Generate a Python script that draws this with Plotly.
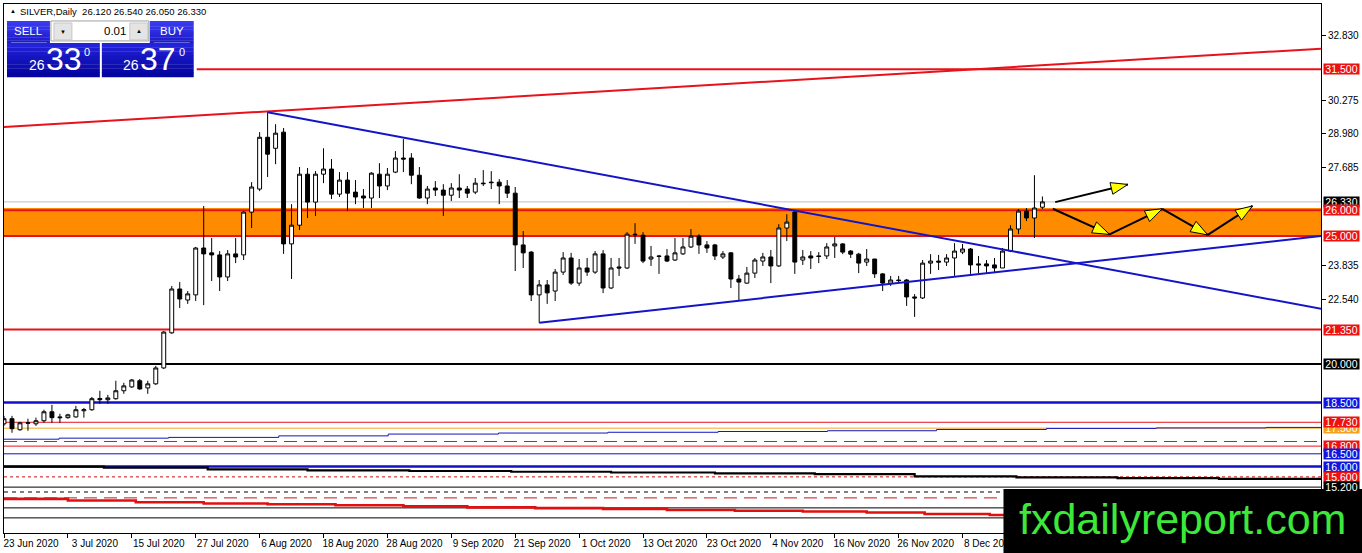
import pandas as pd
import plotly.graph_objects as go

# ---- SILVER daily candles (23 Jun 2020 .. 22 Dec 2020)
opens = [17.67, 17.87, 17.44, 17.69, 17.67, 17.79, 18.14, 17.94, 17.91, 17.94,
         18.18, 18.22, 18.66, 18.61, 18.65, 18.96, 19.11, 19.35, 19.07, 19.23,
         19.85, 21.22, 22.93, 22.50, 22.70, 24.53, 24.34, 24.26, 23.40, 24.30,
         24.26, 25.93, 26.83, 28.85, 28.42, 29.05, 24.69, 25.42, 27.41, 26.32,
         27.41, 27.61, 26.63, 27.18, 26.71, 26.56, 26.48, 27.41, 26.95, 27.49,
         28.04, 28.04, 27.37, 26.48, 26.87, 26.79, 26.59, 26.87, 26.83, 26.71,
         27.06, 27.10, 27.10, 26.95, 26.67, 24.65, 24.37, 22.70, 23.09, 22.85,
         23.59, 24.14, 23.16, 23.75, 23.59, 24.30, 22.97, 23.79, 23.75, 25.07,
         25.03, 24.10, 24.22, 24.22, 24.06, 24.30, 24.57, 24.99, 24.65, 24.65,
         24.18, 24.34, 23.32, 23.16, 23.55, 24.02, 24.18, 23.83, 25.31, 25.93,
         24.06, 24.22, 24.22, 24.22, 24.61, 24.69, 24.41, 24.29, 23.98, 24.10,
         23.52, 23.16, 23.28, 23.28, 22.62, 22.58, 23.94, 24.02, 23.98, 24.14,
         24.37, 24.49, 23.91, 23.91, 23.87, 23.75, 24.41, 25.27, 25.97, 25.70,
         26.12]
highs = [17.98, 17.98, 17.75, 17.87, 17.91, 18.22, 18.41, 18.06, 18.06, 18.37,
         18.29, 18.72, 18.96, 18.80, 19.35, 19.27, 19.42, 19.42, 19.35, 19.93,
         21.29, 23.05, 23.20, 22.85, 24.57, 26.17, 24.92, 24.41, 24.45, 24.92,
         25.97, 27.10, 29.05, 29.83, 29.36, 29.21, 26.24, 27.69, 27.65, 27.53,
         28.42, 28.00, 27.49, 27.49, 27.18, 26.83, 27.49, 27.84, 27.65, 28.31,
         28.78, 28.23, 27.69, 26.95, 27.14, 27.02, 27.06, 27.41, 26.95, 27.26,
         27.57, 27.53, 27.22, 27.18, 26.91, 25.19, 24.41, 23.28, 23.28, 23.71,
         24.37, 24.34, 24.10, 24.14, 24.41, 24.45, 24.14, 24.14, 25.15, 25.50,
         25.15, 24.61, 24.26, 24.49, 24.92, 24.92, 25.27, 25.07, 24.80, 24.69,
         24.41, 24.37, 23.48, 23.79, 24.14, 24.34, 24.45, 25.46, 25.85, 26.01,
         24.45, 24.41, 24.37, 24.72, 24.96, 24.72, 24.45, 24.34, 24.49, 24.10,
         23.55, 23.44, 23.44, 23.32, 22.73, 24.06, 24.29, 24.26, 24.29, 24.72,
         24.69, 24.53, 24.22, 24.06, 24.14, 24.53, 25.42, 26.05, 26.09, 27.37,
         26.54]
lows = [17.59, 17.32, 17.40, 17.40, 17.59, 17.71, 17.71, 17.71, 17.87, 17.91,
        17.91, 18.18, 18.45, 18.45, 18.61, 18.84, 19.07, 19.00, 18.84, 19.19,
        19.81, 21.18, 22.19, 22.35, 22.46, 22.30, 23.24, 22.85, 23.24, 23.94,
        24.06, 25.31, 26.75, 27.30, 27.80, 24.30, 23.32, 25.23, 25.70, 25.78,
        27.06, 26.44, 26.52, 25.97, 26.24, 26.09, 26.09, 26.48, 26.79, 27.45,
        27.49, 27.02, 26.45, 26.24, 26.56, 25.78, 26.36, 26.48, 26.48, 26.63,
        26.95, 26.83, 26.24, 26.48, 23.63, 23.75, 22.46, 21.61, 22.35, 22.46,
        23.48, 23.09, 23.05, 23.44, 23.52, 22.77, 22.93, 23.44, 23.71, 24.69,
        23.94, 23.83, 23.52, 23.98, 24.02, 24.26, 24.53, 24.30, 24.34, 24.06,
        24.10, 22.97, 22.50, 23.13, 23.36, 23.83, 23.16, 23.79, 24.80, 23.52,
        23.87, 23.71, 23.94, 24.10, 24.14, 24.29, 24.14, 23.55, 23.83, 23.36,
        22.85, 23.05, 23.16, 22.27, 21.84, 22.54, 23.52, 23.67, 23.83, 23.44,
        24.29, 23.52, 23.55, 23.55, 23.55, 23.75, 24.37, 25.07, 25.58, 24.92,
        26.05]
closes = [17.87, 17.48, 17.71, 17.71, 17.79, 18.14, 17.91, 17.91, 18.02, 18.22,
          18.22, 18.65, 18.61, 18.68, 18.96, 19.15, 19.38, 19.03, 19.23, 19.85,
          21.25, 22.93, 22.54, 22.74, 24.53, 24.30, 24.26, 23.40, 24.30, 24.18,
          25.93, 26.91, 28.85, 28.19, 29.01, 24.69, 25.42, 27.41, 26.32, 27.41,
          27.61, 26.63, 27.18, 26.67, 26.52, 26.48, 27.45, 26.95, 27.41, 28.04,
          28.00, 27.37, 26.48, 26.83, 26.79, 26.59, 26.87, 26.79, 26.67, 27.06,
          27.04, 27.08, 26.95, 26.67, 24.65, 24.34, 22.70, 23.09, 22.78, 23.59,
          24.14, 23.16, 23.75, 23.59, 24.30, 22.97, 23.75, 23.75, 25.07, 25.05,
          24.02, 24.18, 24.20, 24.02, 24.34, 24.57, 24.99, 24.65, 24.53, 24.22,
          24.30, 23.32, 23.20, 23.55, 24.06, 24.18, 23.83, 25.31, 25.54, 23.98,
          24.18, 24.14, 24.20, 24.57, 24.69, 24.37, 24.29, 23.94, 24.10, 23.52,
          23.16, 23.28, 23.26, 22.62, 22.58, 23.94, 24.02, 23.98, 24.14, 24.41,
          24.49, 23.87, 23.87, 23.83, 23.75, 24.41, 25.27, 25.97, 25.70, 26.09,
          26.33]

dates = pd.bdate_range("2020-06-23", periods=len(opens))
bars = list(range(len(opens)))

tick_dates = ["2020-06-23", "2020-07-03", "2020-07-15", "2020-07-27", "2020-08-06",
              "2020-08-18", "2020-08-28", "2020-09-09", "2020-09-21", "2020-10-01",
              "2020-10-13", "2020-10-23", "2020-11-04", "2020-11-16", "2020-11-26",
              "2020-12-08"]
tick_labels = ["23 Jun 2020", "3 Jul 2020", "15 Jul 2020", "27 Jul 2020", "6 Aug 2020",
               "18 Aug 2020", "28 Aug 2020", "9 Sep 2020", "21 Sep 2020", "1 Oct 2020",
               "13 Oct 2020", "23 Oct 2020", "4 Nov 2020", "16 Nov 2020", "26 Nov 2020",
               "8 Dec 2020"]
tick_pos = list(dates.get_indexer(pd.to_datetime(tick_dates)))

price_ticks = [32.830, 30.275, 28.980, 27.685, 23.835, 22.540]
price_tick_text = ["32.830", "30.275", "28.980", "27.685", "23.835", "22.540"]

# horizontal levels drawn on the chart
levels = [31.50, 26.33, 26.00, 25.00, 21.35, 20.00, 18.50, 17.73, 17.50,
          16.98, 16.80, 16.50, 16.00, 15.60, 15.20, 15.01, 14.78, 14.39, 14.00]
level_color = ["#e8121a", "#c0c0c0", "#e8121a", "#e8121a", "#e8121a", "#000000",
               "#1010c8", "#e8121a", "#f5a623", "#e8121a", "#e8121a", "#1010c8",
               "#1010c8", "#c01010", "#000000", "#000000", "#d01010", "#000000",
               "#000000"]
level_width = [2, 1, 2, 2, 2, 2, 2.5, 1, 1, 1, 1, 1, 2.5, 1, 1, 1, 1, 1, 1]
level_dash = ["solid", "solid", "solid", "solid", "solid", "solid", "solid", "solid",
              "solid", "13px,7px", "solid", "solid", "solid", "3px,3px", "solid",
              "4px,4px", "13px,7px", "solid", "solid"]

# price tags on the right scale (drawn in this order)
tag_prices = [31.50, 26.33, 26.00, 25.00, 21.35, 20.00, 18.50, 17.50, 17.73,
              16.80, 16.50, 16.00, 15.60, 15.20]
tag_colors = ["#ee1111", "#000000", "#ee1111", "#ee1111", "#ee1111", "#000000",
              "#1414e0", "#f5a020", "#ee1111", "#ee1111", "#1414e0", "#1414e0",
              "#ee1111", "#000000"]

# trend lines (bar index, price)
red_trend_x, red_trend_y = [0, 165], [29.25, 32.31]
blue_down_x, blue_down_y = [33, 165], [29.83, 22.15]
blue_up_x, blue_up_y = [67, 165], [21.61, 25.00]

# stepped indicator lines near the bottom
blue_step_x = [0, 6.9, 20.6, 34.4, 48.1, 61.9, 75.6, 89.4, 103.1, 116.75, 130.5, 144.25, 158, 165]
blue_step_y = [17.07, 17.11, 17.14, 17.20, 17.27, 17.31, 17.34, 17.37, 17.40, 17.45,
               17.49, 17.51, 17.53, 17.53]
black_step_x = [0, 12.5, 25.5, 38, 50.75, 63.5, 76, 89, 101.5, 114, 126.75, 139.4, 152.1, 165]
black_step_y = [16.00, 15.96, 15.89, 15.85, 15.83, 15.80, 15.77, 15.74, 15.71, 15.62,
                15.58, 15.55, 15.52, 15.52]
red_step_x = [0, 8, 16.5, 25, 33, 41.5, 50, 58, 66.5, 75, 83, 91.5, 100, 108,
              115.25, 123.4, 131.75, 140, 148.5, 157, 165]
red_step_y = [14.74, 14.68, 14.61, 14.56, 14.53, 14.49, 14.45, 14.41, 14.38, 14.35,
              14.31, 14.28, 14.25, 14.21, 14.15, 14.11, 14.07, 14.03, 14.00, 13.97, 13.97]

# forecast arrows (bar index, price)
arrow_up_x, arrow_up_y = [131.6, 140.7], [26.32, 27.01]
zigzag_x = [131.3, 138.4, 145.0, 150.7, 156.3]
zigzag_y = [26.06, 25.06, 26.06, 25.04, 26.17]

# ---- geometry
W, H = 1362, 553
ML, MR, MT, MB = 3, 40, 3, 20
PW, PH = W - ML - MR, H - MT - MB
X_RANGE = [0, 164.875]
Y_RANGE = [13.41, 34.05]
FONT = "Liberation Sans"


def paper_x(px):
    return (px - ML) / PW


def paper_y(py):
    return (H - MB - py) / PH


def to_px(i, p):
    x = ML + (i - X_RANGE[0]) / (X_RANGE[1] - X_RANGE[0]) * PW
    y = MT + (Y_RANGE[1] - p) / (Y_RANGE[1] - Y_RANGE[0]) * PH
    return x, y


shapes = []
annotations = []

# orange zone
shapes.append(dict(type="rect", xref="paper", yref="y", x0=0, x1=1, y0=24.98, y1=26.09,
                   fillcolor="#ff8c00", line=dict(width=0), layer="below"))
for lv, c, w, d in zip(levels, level_color, level_width, level_dash):
    shapes.append(dict(type="line", xref="paper", yref="y", x0=0, x1=1, y0=lv, y1=lv,
                       line=dict(color=c, width=w, dash=d), layer="below"))

for xs, ys, c in [(red_trend_x, red_trend_y, "#e8121a"),
                  (blue_down_x, blue_down_y, "#1414c8"),
                  (blue_up_x, blue_up_y, "#1414c8")]:
    shapes.append(dict(type="line", xref="x", yref="y", x0=xs[0], x1=xs[1], y0=ys[0], y1=ys[1],
                       line=dict(color=c, width=2), layer="above"))


def arrow(i0, p0, i1, p1):
    x0, y0 = to_px(i0, p0)
    x1, y1 = to_px(i1, p1)
    shapes.append(dict(type="line", xref="paper", yref="paper",
                       x0=paper_x(x0), y0=paper_y(y0), x1=paper_x(x1), y1=paper_y(y1),
                       line=dict(color="black", width=2), layer="above"))
    dx, dy = x1 - x0, y1 - y0
    n = (dx * dx + dy * dy) ** 0.5
    ux, uy = dx / n, dy / n
    bx, by = x1 - 17 * ux, y1 - 17 * uy
    pts = [(x1, y1), (bx - 6 * uy, by + 6 * ux), (bx + 6 * uy, by - 6 * ux)]
    path = "M " + " L ".join(f"{paper_x(a):.5f},{paper_y(b):.5f}" for a, b in pts) + " Z"
    shapes.append(dict(type="path", xref="paper", yref="paper", path=path,
                       fillcolor="#ffff00", line=dict(color="black", width=1), layer="above"))


arrow(arrow_up_x[0], arrow_up_y[0], arrow_up_x[1], arrow_up_y[1])
for k in range(len(zigzag_x) - 1):
    arrow(zigzag_x[k], zigzag_y[k], zigzag_x[k + 1], zigzag_y[k + 1])


# ---- trade panel (top left)
def rect(x0, y0, x1, y1, fill, line=None, lw=0):
    shapes.append(dict(type="rect", xref="paper", yref="paper",
                       x0=paper_x(x0), x1=paper_x(x1), y0=paper_y(y1), y1=paper_y(y0),
                       fillcolor=fill, line=dict(width=lw, color=line or fill), layer="above"))


def grad_box(x0, y0, x1, y1, top, bottom, n=8):
    t = [int(top[i:i + 2], 16) for i in (1, 3, 5)]
    b = [int(bottom[i:i + 2], 16) for i in (1, 3, 5)]
    h = (y1 - y0) / n
    for k in range(n):
        f = k / (n - 1)
        c = "#%02x%02x%02x" % tuple(round(t[j] + (b[j] - t[j]) * f) for j in range(3))
        rect(x0, y0 + k * h, x1, y0 + (k + 1) * h + 0.3, c)


def text(x, y, s, size, color="white", anchor="center"):
    annotations.append(dict(xref="paper", yref="paper", x=paper_x(x), y=paper_y(y), text=s,
                            showarrow=False, xanchor=anchor, yanchor="middle",
                            font=dict(size=size, color=color, family=FONT)))


rect(3, 17, 196, 79, "white")
grad_box(6, 20, 49, 42, "#3a3af0", "#1c1cc8")
grad_box(149, 20, 193, 42, "#3a3af0", "#1c1cc8")
grad_box(6, 42, 99, 76, "#2222d8", "#0404a0")
grad_box(101, 42, 193, 76, "#2222d8", "#0404a0")
rect(10, 41.3, 46, 42.1, "#8080e8")
rect(153, 41.3, 189, 42.1, "#8080e8")
rect(50, 20, 148, 40, "white", "#a0a0a0", 1)
rect(53, 22, 71, 39, "#e4e4e4", "#c8c8c8", 1)
rect(129, 22, 147, 39, "#e4e4e4", "#c8c8c8", 1)
text(62, 31, "▼", 6, "black")
text(138, 30, "▲", 6, "black")
text(127, 30.5, "0.01", 11.5, "black", "right")
text(27.5, 30.5, "SELL", 11.5)
text(171, 30.5, "BUY", 11.5)
text(36.5, 64.5, "26", 14)
text(63, 58.5, "33", 32)
text(86, 51, "0", 11)
text(130, 64.5, "26", 14)
text(157.5, 58.5, "37", 32)
text(181, 51, "0", 11)
text(7.5, 10.5, "▲", 6, "black", "left")
text(17, 10.5, "SILVER,Daily  26.120 26.540 26.050 26.330", 9.5, "black", "left")

# ---- price tags on the right scale
for p, c in zip(tag_prices, tag_colors):
    annotations.append(dict(xref="paper", yref="y", x=1, y=p, xshift=2, xanchor="left",
                            yanchor="middle", text=f"{p:.3f}", showarrow=False,
                            bgcolor=c, width=35, height=10, borderpad=0,
                            font=dict(size=10.5, color="white", family=FONT)))

# ---- watermark
shapes.append(dict(type="rect", xref="paper", yref="paper",
                   x0=paper_x(1004), x1=paper_x(1364), y0=paper_y(555), y1=paper_y(489),
                   fillcolor="black", line=dict(width=0), layer="above"))
annotations.append(dict(xref="paper", yref="paper", x=paper_x(1183), y=paper_y(519),
                        text="fxdailyreport.com", showarrow=False, xanchor="center",
                        yanchor="middle", font=dict(size=43, color="#3ee83a", family=FONT)))

# ---- traces
fig = go.Figure()
fig.add_trace(go.Candlestick(
    x=bars, open=opens, high=highs, low=lows, close=closes,
    increasing=dict(fillcolor="white", line=dict(color="black", width=1)),
    decreasing=dict(fillcolor="black", line=dict(color="black", width=1)),
    hoverinfo="skip", showlegend=False))
for xs, ys, c, w in [(blue_step_x, blue_step_y, "#1414c0", 1),
                     (black_step_x, black_step_y, "#000000", 2.2),
                     (red_step_x, red_step_y, "#e01010", 2.6)]:
    fig.add_trace(go.Scatter(x=xs, y=ys, mode="lines", line=dict(color=c, width=w, shape="hv"),
                             hoverinfo="skip", showlegend=False))

fig.update_layout(
    width=W, height=H, margin=dict(l=ML, r=MR, t=MT, b=MB),
    paper_bgcolor="white", plot_bgcolor="white", showlegend=False,
    font=dict(family=FONT, size=10, color="black"),
    shapes=shapes, annotations=annotations,
    xaxis=dict(range=X_RANGE, rangeslider=dict(visible=False), showgrid=False, zeroline=False,
               showline=True, linecolor="black", linewidth=1, mirror=True,
               ticks="outside", ticklen=4, tickcolor="black",
               tickvals=tick_pos, ticktext=tick_labels, ticklabelshift=27,
               ticklabelstandoff=-3,
               tickfont=dict(size=10, family=FONT, color="black")),
    yaxis=dict(range=Y_RANGE, side="right", showgrid=False, zeroline=False,
               showline=True, linecolor="black", linewidth=1, mirror=True,
               ticks="outside", ticklen=4, tickcolor="black",
               tickvals=price_ticks, ticktext=price_tick_text,
               tickfont=dict(size=10, family=FONT, color="black")),
)

# the page body keeps a default 8px margin; drop it so the figure sits at the corner
fig.write_html("out.html", config={"displayModeBar": False},
               post_script="document.body.style.margin='0';")
